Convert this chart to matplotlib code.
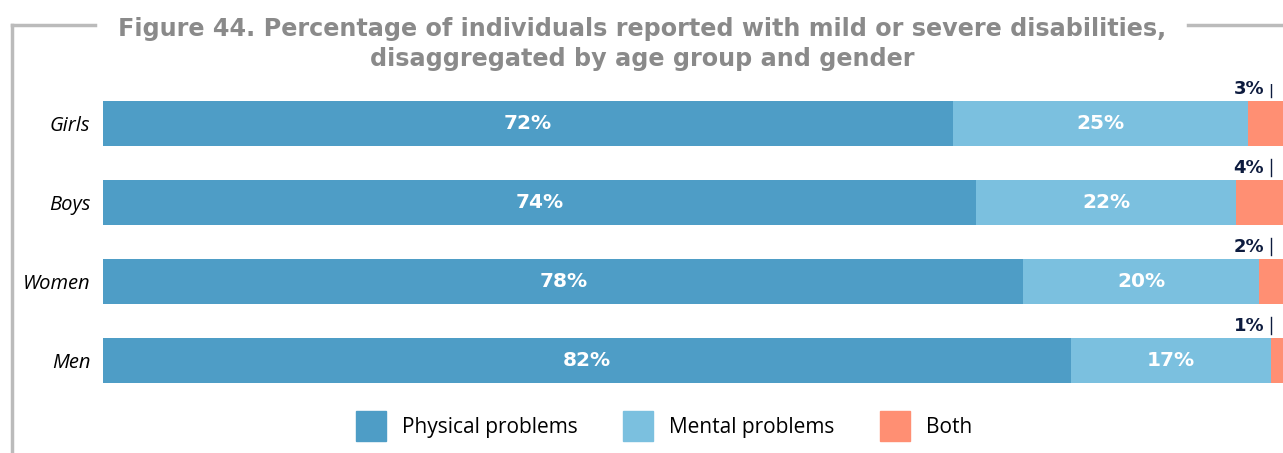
import numpy as np
import matplotlib
matplotlib.use("Agg")
import matplotlib.pyplot as plt
from matplotlib.lines import Line2D
from matplotlib.patches import Patch

# data
groups = ["Girls", "Boys", "Women", "Men"]
physical = [72, 74, 78, 82]
mental = [25, 22, 20, 17]
both = [3, 4, 2, 1]
series_names = ["Physical problems", "Mental problems", "Both"]
colors = ["#4E9DC6", "#7BC0DF", "#FF8F73"]

plt.rcParams['font.family'] = ['Open Sans', 'DejaVu Sans']
plt.rcParams['font.stretch'] = 'normal'

W, H = 1283, 453
fig = plt.figure(figsize=(W / 100, H / 100), dpi=100)

# axes: bars from x=103px to right edge, rows 79px apart
ax = fig.add_axes([103 / W, 1 - 400 / H, 1 - 103 / W, 316 / H])
y = np.arange(len(groups))
left = np.zeros(len(groups))
for vals, name, c in zip([physical, mental, both], series_names, colors):
    ax.barh(y, vals, left=left, height=0.57, color=c, label=name)
    for i, v in enumerate(vals):
        if v >= 10:
            ax.text(left[i] + v / 2, y[i], f"{v}%", ha='center', va='center',
                    color='white', fontsize=14.5, fontweight='bold',
                    family='DejaVu Sans')
    left = left + np.array(vals)

# small "both" labels above the bar end
for i, v in enumerate(both):
    ax.text(98.4, y[i] - 0.32, f"{v}%", ha='right', va='bottom',
            color='#0D1B3E', fontsize=13, fontweight='bold', family='DejaVu Sans')
    ax.plot([99.0, 99.0], [y[i] - 0.33, y[i] - 0.55], color='#0D1B3E', lw=1)

ax.set_xlim(0, 100)
ax.set_ylim(3.5, -0.5)
ax.set_yticks(y)
ax.set_yticklabels(groups, fontsize=14.5, style='italic', fontstretch='normal')
ax.tick_params(axis='y', length=0, pad=9)
ax.set_xticks([])
for s in ax.spines.values():
    s.set_visible(False)

# frame lines
gray = '#BBBBBB'
fig.add_artist(Line2D([12 / W, 12 / W], [1 - 25 / H, 0], color=gray, lw=2.5))
fig.add_artist(Line2D([12 / W, 95 / W], [1 - 25 / H, 1 - 25 / H], color=gray, lw=2.5))
fig.add_artist(Line2D([1188 / W, 1], [1 - 25 / H, 1 - 25 / H], color=gray, lw=2.5))

fig.text(642 / W, 1 - 44 / H,
         "Figure 44. Percentage of individuals reported with mild or severe disabilities,\n"
         "disaggregated by age group and gender",
         ha='center', va='center', color='#8A8A8A', fontsize=17.2, fontweight='bold',
         family='DejaVu Sans', linespacing=1.3)

handles = [Patch(color=c) for c in colors]
fig.legend(handles, series_names, loc='center', bbox_to_anchor=(664 / W, 1 - 426 / H),
           ncol=3, frameon=False, fontsize=15, handlelength=1.45, handleheight=1.8,
           handletextpad=0.75, columnspacing=2.2)

fig.savefig("out.png", dpi=100)
